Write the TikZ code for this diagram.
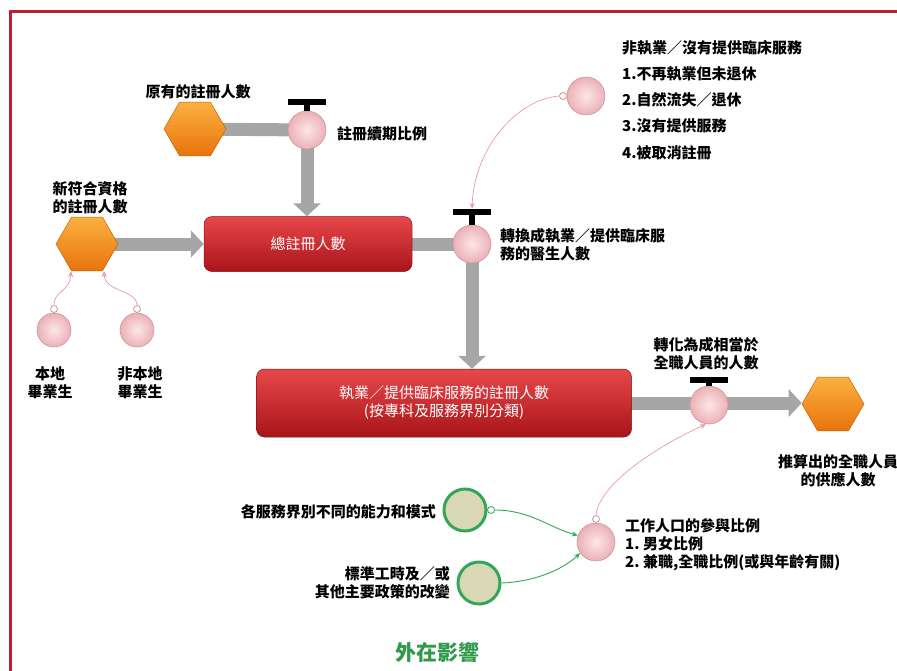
\documentclass[tikz,border=0pt]{standalone}
\usepackage{fontspec}
\newfontfamily\cjk{Noto Sans CJK TC}
\usetikzlibrary{shapes.geometric,arrows.meta}
\pgfdeclarelayer{bg}
\pgfsetlayers{bg,main}
\definecolor{framered}{HTML}{C0202A}
\definecolor{barg}{HTML}{A6A6A6}
\definecolor{orL}{HTML}{FBB040}
\definecolor{orD}{HTML}{E8740C}
\definecolor{redL}{HTML}{E8484A}
\definecolor{redD}{HTML}{A8141A}
\definecolor{pinkL}{HTML}{FCE6E8}
\definecolor{pinkD}{HTML}{EBB1B6}
\definecolor{pinkB}{HTML}{C9979C}
\definecolor{pinkA}{HTML}{E89AA4}
\definecolor{grn}{HTML}{33A65A}
\definecolor{beige}{HTML}{D9D8B4}
\definecolor{grnT}{HTML}{2E9A4A}
\begin{document}
\begin{tikzpicture}[x=1pt,y=-1pt,
  font=\cjk\bfseries\fontsize{15}{18}\selectfont,
  hexa/.style={regular polygon, regular polygon sides=6, minimum size=62pt, inner sep=0pt,
    top color=orL, bottom color=orD, draw=orD!85!black, line width=0.5pt},
  redbox/.style={rounded corners=8pt, top color=redL, bottom color=redD, draw=redD!80!black,
    line width=0.5pt, text=white, align=center, font=\cjk\fontsize{15}{18}\selectfont},
  valve/.style={circle, minimum size=38pt, inner sep=0pt, inner color=pinkL, outer color=pinkD,
    draw=pinkB, line width=0.6pt},
  smallvalve/.style={valve, minimum size=34pt},
  ring/.style={circle, minimum size=7pt, inner sep=0pt, draw=pinkB, line width=0.8pt, fill=white},
  gvalve/.style={circle, minimum size=42pt, inner sep=0pt, fill=beige, draw=grn, line width=3pt},
  gring/.style={ring, draw=grn},
  tcap/.style={rectangle, fill=black, minimum width=38pt, minimum height=6pt, inner sep=0pt},
  stem/.style={line width=6pt, draw=black},
  bar/.style={line width=13pt, draw=barg},
  bararrow/.style={bar, -{Triangle[length=13pt, width=27pt]}},
  pinkarrow/.style={draw=pinkA, line width=0.7pt, -{Stealth[length=6pt,width=5pt]}},
  greenarrow/.style={draw=grn, line width=0.9pt, -{Stealth[length=6pt,width=5pt]}},
  lbl/.style={inner sep=1pt, text=black, align=center}
]
\useasboundingbox (0,0) rectangle (897,670);
\clip (0,0) rectangle (897,670);
\draw[framered, line width=3pt] (10,675) -- (10,11) -- (900,11);

% nodes
\node[hexa] (h1) at (195,129) {};
\node[lbl] (th1) at (198,92) {原有的註冊人數};
\node[valve] (v1) at (307,130) {};
\node[tcap] (c1) at (307,102) {};
\draw[stem] (c1.center) -- (v1.north);
\node[lbl, anchor=west] (tv1) at (336,134) {註冊續期比例};

\node[redbox, minimum width=208pt, minimum height=55pt] (b1) at (308,244) {總註冊人數};
\node[hexa] (h2) at (87,244) {};
\node[lbl] (th2) at (90,198) {新符合資格\\的註冊人數};

\node[smallvalve] (s1) at (54,330) {};
\node[ring] (r1) at (54,309) {};
\node[smallvalve] (s2) at (137,330) {};
\node[ring] (r2) at (137,309) {};
\node[lbl] (ts1) at (50,383) {本地\\畢業生};
\node[lbl] (ts2) at (140,383) {非本地\\畢業生};

\node[valve] (v2) at (472,244) {};
\node[tcap] (c2) at (472,212) {};
\draw[stem] (c2.center) -- (v2.north);
\node[lbl, anchor=west, align=left] (tv2) at (499,245) {轉換成執業／提供臨床服\\務的醫生人數};

\node[redbox, minimum width=375pt, minimum height=68pt] (b2) at (444,403) {執業／提供臨床服務的註冊人數\\(按專科及服務界別分類)};
\node[valve] (v3) at (709,405) {};
\node[tcap] (c3) at (709,380) {};
\draw[stem] (c3.center) -- (v3.north);
\node[lbl] (tv3) at (706,354) {轉化為成相當於\\全職人員的人數};
\node[hexa] (h3) at (833,404) {};
\node[lbl] (th3) at (838,471) {推算出的全職人員\\的供應人數};

\node[valve] (v4) at (586,96) {};
\node[ring] (r4) at (563,96) {};
\node[lbl, anchor=west, align=left, font=\cjk\bfseries\fontsize{15}{26.2}\selectfont] (tv4) at (621,100)
  {非執業／沒有提供臨床服務\\1.不再執業但未退休\\2.自然流失／退休\\3.沒有提供服務\\4.被取消註冊};

\node[valve] (v5) at (596,542) {};
\node[ring] (r5) at (596,519) {};
\node[lbl, anchor=west, align=left] (tv5) at (624,545) {工作人口的參與比例\\1.~男女比例\\2.~兼職,全職比例(或與年齡有關)};

\node[gvalve] (g1) at (465,510) {};
\node[gring] (gr1) at (491,510) {};
\node[lbl, anchor=east] (tg1) at (437,512) {各服務界別不同的能力和模式};
\node[gvalve] (g2) at (479,583) {};
\node[lbl, anchor=east, align=right] (tg2) at (451,583) {標準工時及／或\\其他主要政策的改變};

\node[text=grnT, font=\cjk\bfseries\fontsize{21}{24}\selectfont] (text) at (437,652) {外在影響};

% gray flow bars
\begin{pgfonlayer}{bg}
\draw[bar] (h1.center) -- (v1.center);
\draw[bararrow] (v1.center) -- (v1.center |- b1.north);
\draw[bararrow] (h2.center) -- (b1.west);
\draw[bar] (b1.center) -- (v2.center);
\draw[bararrow] (v2.center) -- (v2.center |- b2.north);
\draw[bar] (b2.center) -- (b2.center -| v3.center);
\draw[bararrow] (b2.center -| v3.center) -- (h3.west |- b2.center);
\end{pgfonlayer}

% influence arrows
\draw[pinkarrow] (r4.west) .. controls (515,100) and (474,150) .. (c2.north);
\draw[pinkarrow] (r1.north) .. controls (54,290) and (70,292) .. ([xshift=-16pt]h2.south);
\draw[pinkarrow] (r2.north) .. controls (137,290) and (105,292) .. ([xshift=17pt]h2.south);
\draw[pinkarrow] (r5.north) .. controls (600,480) and (670,440) .. ([xshift=-3pt]v3.south);
\draw[greenarrow] (gr1.east) .. controls (530,510) and (550,528) .. (v5.160);
\draw[greenarrow] (g2.east) .. controls (530,582) and (560,572) .. (v5.215);
\end{tikzpicture}
\end{document}
